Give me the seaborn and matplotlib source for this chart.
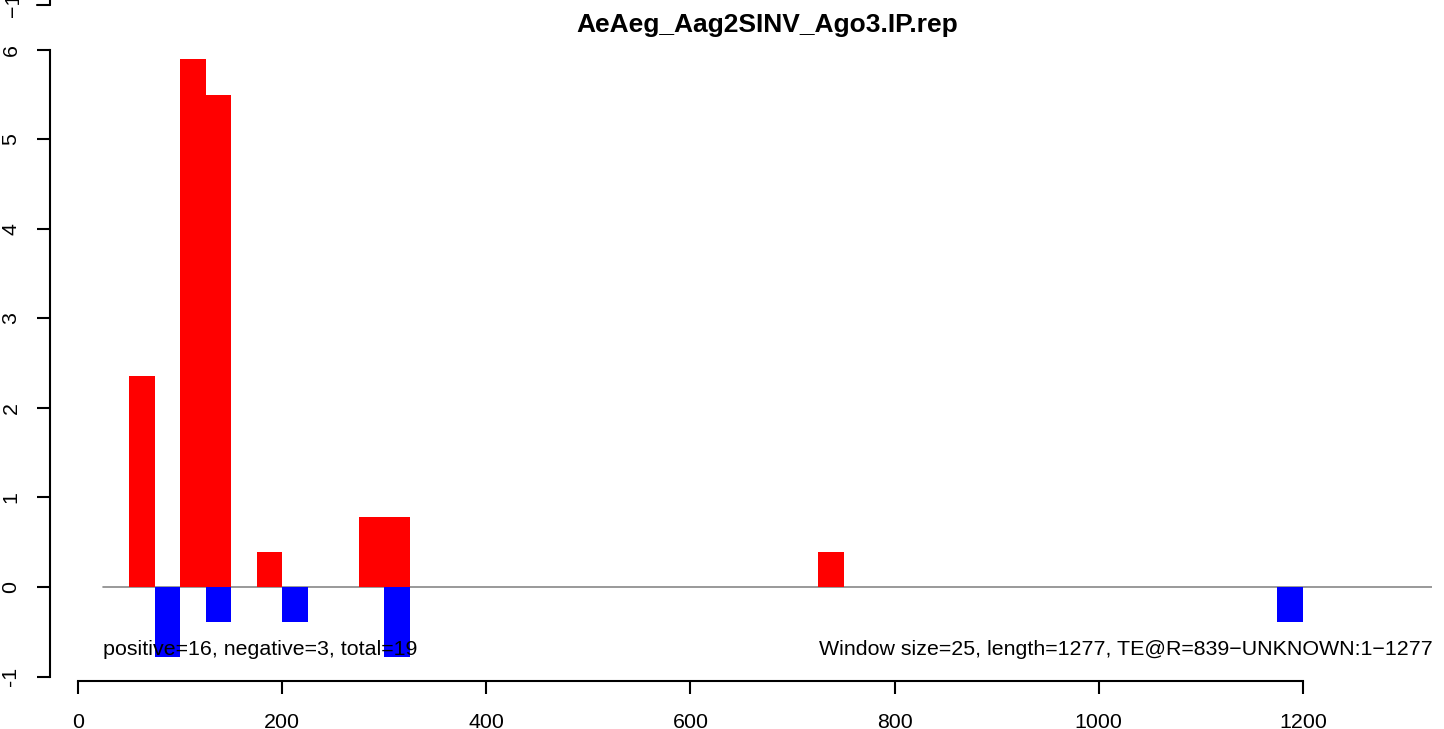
import numpy as np
import pandas as pd
import matplotlib
matplotlib.use("Agg")
import matplotlib.pyplot as plt
import seaborn as sns
from matplotlib.lines import Line2D

# values (window size 25, bin start positions)
window = 25
seq_length = 1277
red_start = [50, 100, 125, 175, 275, 300, 725]
red_val = [2.36, 5.9, 5.5, 0.393, 0.787, 0.787, 0.393]
blue_start = [75, 125, 200, 300, 1175]
blue_val = [-0.787, -0.393, -0.393, -0.787, -0.393]

title = "AeAeg_Aag2SINV_Ago3.IP.rep"
left_note = "positive=16, negative=3, total=19"
right_note = "Window size=25, length=1277, TE@R=839\u2212UNKNOWN:1\u22121277"
xticks = [0, 200, 400, 600, 800, 1000, 1200]
yticks = [-1, 0, 1, 2, 3, 4, 5, 6]

sns.set_style("ticks")
plt.rcParams['font.family'] = ['Liberation Sans', 'DejaVu Sans']
plt.rcParams['text.color'] = 'black'
plt.rcParams['xtick.color'] = 'black'
plt.rcParams['ytick.color'] = 'black'

fs = 15.4

df = pd.DataFrame({
    'pos': [s + window / 2 for s in red_start] + [s + window / 2 for s in blue_start],
    'val': red_val + blue_val,
    'strand': ['+'] * len(red_start) + ['-'] * len(blue_start),
})

W, H = 1444, 729
fig = plt.figure(figsize=(W / 100, H / 100), dpi=100)
ax = fig.add_axes([50 / W, (H - 681) / H, (1432 - 50) / W, (681 - 40) / H])

sns.barplot(data=df, x='pos', y='val', hue='strand', native_scale=True, dodge=False,
            palette={'+': '#ff0000', '-': '#0000ff'}, saturation=1, width=1,
            errorbar=None, linewidth=0, legend=False, ax=ax)

# baseline
ax.plot([window, seq_length + 2 * window], [0, 0], color='#888888', lw=1.2, zorder=0.5)

ax.set_xlim(-27.4, 1326.4)
ax.set_ylim(-1.05, 6.11)
ax.set_xticks(xticks)
ax.set_xticklabels([str(t) for t in xticks])
ax.set_yticks(yticks)
ax.set_yticklabels([str(t) for t in yticks], rotation=90, va='center')
ax.set_xlabel('')
ax.set_ylabel('')

for side in ['top', 'right']:
    ax.spines[side].set_visible(False)
ax.spines['left'].set_bounds(-1, 6)
ax.spines['bottom'].set_bounds(0, 1200)
for side in ['left', 'bottom']:
    ax.spines[side].set_linewidth(1.5)
    ax.spines[side].set_color('black')
ax.tick_params(axis='both', length=9.3, width=1.5, color='black', labelcolor='black', labelsize=fs)
ax.tick_params(axis='x', pad=13.5)
ax.tick_params(axis='y', pad=12)

ax.text(window, -0.70, left_note, fontsize=fs, ha='left', va='center', color='black')
ax.text(seq_length + 2 * window, -0.70, right_note, fontsize=fs, ha='right', va='center', color='black')

fig.text(767 / W, 1 - 25 / H, title, fontsize=19, fontweight='bold', ha='center', va='center', color='black')

# bottom of the panel above, cut off at the top edge
fig.add_artist(Line2D([50 / W, 50 / W], [1 - 5 / H, 1.0], color='black', lw=1.5, transform=fig.transFigure))
fig.add_artist(Line2D([37 / W, 50 / W], [1 - 5 / H, 1 - 5 / H], color='black', lw=1.5, transform=fig.transFigure))
fig.text(14 / W, 1 - 5 / H, "\u22121", fontsize=fs, rotation=90, ha='center', va='center', color='black')

fig.savefig("out.png", dpi=100, facecolor='white')
